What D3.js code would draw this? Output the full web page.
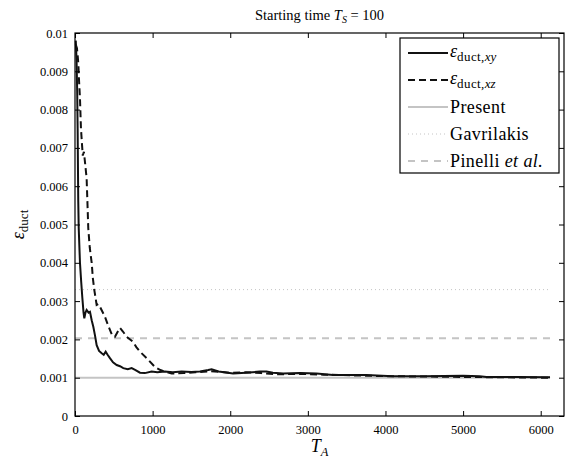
<!DOCTYPE html>
<html>
<head>
<meta charset="utf-8">
<script src="https://d3js.org/d3.v7.min.js"></script>
<style>
  body { margin: 0; background: #fff; }
</style>
</head>
<body>
<div id="chart"></div>
<script>

    // eps_duct,xy (solid) : averaging time T_A vs error
    const tA_xy = [10, 20, 28, 34, 38, 42, 48, 64, 80, 94, 110, 120, 135, 150, 175, 193, 215, 236, 258, 279,
                   310, 344, 370, 395, 420, 450, 490, 537, 580, 622, 680, 730, 780, 837, 900, 987, 1060, 1158,
                   1260, 1373, 1500, 1609, 1716, 1760, 1850, 2037, 2200, 2381, 2467, 2550, 2681, 2900, 3111,
                   3324, 3754, 4093, 4500, 5000, 5212, 5300, 5700, 6120];
    const eps_xy = [0.0098, 0.0093, 0.0085, 0.0075, 0.0065, 0.0056, 0.0049, 0.0040, 0.0035, 0.0031, 0.0027,
                    0.00255, 0.0027, 0.00277, 0.0027, 0.00272, 0.0025, 0.00233, 0.0021, 0.00185, 0.0017,
                    0.00164, 0.0016, 0.00168, 0.0016, 0.00151, 0.0014, 0.00133, 0.0013, 0.00125, 0.00122,
                    0.00125, 0.0012, 0.00113, 0.00112, 0.00116, 0.00114, 0.00116, 0.00114, 0.00116, 0.00115,
                    0.00116, 0.0012, 0.00122, 0.00116, 0.00111, 0.00113, 0.00116, 0.00116, 0.00113, 0.00111,
                    0.00112, 0.00111, 0.00107, 0.00107, 0.00104, 0.00104, 0.00105, 0.00104, 0.00102, 0.00102,
                    0.00101];

    // eps_duct,xz (dashed)
    const tA_xz = [10, 25, 35, 43, 51, 64, 77, 90, 100, 115, 130, 150, 163, 171, 190, 215, 230, 248, 279, 300,
                   322, 386, 420, 450, 480, 515, 550, 579, 620, 665, 746, 790, 837, 923, 1030, 1100, 1158, 1245,
                   1400, 1550, 1750, 2000, 2200, 2400, 2600, 2900, 3200, 3600, 4000, 4500, 5000, 5500, 6120];
    const eps_xz = [0.0097, 0.0096, 0.0094, 0.0092, 0.0088, 0.0083, 0.0075, 0.0071, 0.0068, 0.0069, 0.0066,
                    0.0062, 0.0054, 0.0049, 0.0044, 0.0040, 0.0036, 0.0033, 0.0029, 0.00292, 0.00285, 0.00259,
                    0.0024, 0.00225, 0.0021, 0.00207, 0.0022, 0.0023, 0.0022, 0.00207, 0.00194, 0.0018, 0.00168,
                    0.00151, 0.00128, 0.0012, 0.00116, 0.00111, 0.00112, 0.00114, 0.00117, 0.00113, 0.00114,
                    0.00112, 0.00109, 0.0011, 0.00108, 0.00106, 0.00104, 0.00103, 0.00102, 0.00101, 0.001];

    // reference values (horizontal lines)
    const refNames = ["Present", "Gavrilakis", "Pinelli"];
    const refValues = [0.001, 0.0033, 0.00203];
    const refSpan = [0, 6120];

    const xTicks = [0, 1000, 2000, 3000, 4000, 5000, 6000];
    const yTicks = [0, 0.001, 0.002, 0.003, 0.004, 0.005, 0.006, 0.007, 0.008, 0.009, 0.01];

    const w = 568, h = 459;
    const margin = {left: 75, right: 4, top: 33, bottom: 43};
    const serif = "'Liberation Serif', 'Times New Roman', Times, serif";

    const xScale = d3.scaleLinear().domain([0, 6300]).range([margin.left, w - margin.right]);
    const yScale = d3.scaleLinear().domain([0, 0.01]).range([h - margin.bottom, margin.top]);

    const svg = d3.select("#chart").append("svg")
                  .attr("width", w)
                  .attr("height", h)
                  .attr("font-family", serif);

    const line = d3.line().x(d => xScale(d[0])).y(d => yScale(d[1]));

    // reference lines
    const refStyle = [
      {stroke: "#c4c4c4", dash: null, width: 2},
      {stroke: "#c4c4c4", dash: "1,3", width: 1},
      {stroke: "#c4c4c4", dash: "7,6", width: 2}
    ];
    refValues.forEach((v, i) => {
      svg.append("path")
         .attr("d", line(refSpan.map(t => [t, v])))
         .attr("fill", "none")
         .attr("stroke", refStyle[i].stroke)
         .attr("stroke-width", refStyle[i].width)
         .attr("stroke-dasharray", refStyle[i].dash);
    });

    svg.append("path")
       .attr("d", line(d3.zip(tA_xz, eps_xz)))
       .attr("fill", "none")
       .attr("stroke", "#111")
       .attr("stroke-width", 2)
       .attr("stroke-dasharray", "7,4");

    svg.append("path")
       .attr("d", line(d3.zip(tA_xy, eps_xy)))
       .attr("fill", "none")
       .attr("stroke", "#111")
       .attr("stroke-width", 2);

    // axes, ticks inward on all sides
    const fmt = d => d === 0 ? "0" : String(+d.toFixed(3));
    const tickFont = g => g.attr("font-family", serif).attr("font-size", 12.5)
                           .selectAll("text").attr("fill", "#000");
    const clean = g => { g.select(".domain").remove(); g.selectAll("line").attr("stroke", "#000"); };

    svg.append("g")
       .attr("transform", "translate(0," + yScale(0) + ")")
       .call(d3.axisBottom(xScale).tickValues(xTicks).tickFormat(d3.format("d"))
               .tickSizeInner(-5).tickSizeOuter(0).tickPadding(9))
       .call(clean).call(tickFont);
    svg.append("g")
       .attr("transform", "translate(0," + yScale(0.01) + ")")
       .call(d3.axisTop(xScale).tickValues(xTicks).tickSizeInner(-5).tickSizeOuter(0).tickFormat(""))
       .call(clean);
    svg.append("g")
       .attr("transform", "translate(" + xScale(0) + ",0)")
       .call(d3.axisLeft(yScale).tickValues(yTicks).tickFormat(fmt).tickSizeInner(-5).tickSizeOuter(0).tickPadding(7))
       .call(clean).call(tickFont);
    svg.append("g")
       .attr("transform", "translate(" + xScale(6300) + ",0)")
       .call(d3.axisRight(yScale).tickValues(yTicks).tickSizeInner(-5).tickSizeOuter(0).tickFormat(""))
       .call(clean);

    svg.append("rect")
       .attr("x", xScale(0)).attr("y", yScale(0.01))
       .attr("width", xScale(6300) - xScale(0))
       .attr("height", yScale(0) - yScale(0.01))
       .attr("fill", "none").attr("stroke", "#000").attr("stroke-width", 1.2);

    // title
    const title = svg.append("text")
       .attr("x", (xScale(0) + xScale(6300)) / 2).attr("y", 20)
       .attr("text-anchor", "middle").attr("font-size", 14.5);
    title.append("tspan").text("Starting time ");
    title.append("tspan").attr("font-style", "italic").text("T");
    title.append("tspan").attr("dy", 3).attr("font-size", 10).attr("font-style", "italic").text("S");
    title.append("tspan").attr("dy", -3).text(" = 100");

    // x label
    const xl = svg.append("text")
       .attr("x", (xScale(0) + xScale(6300)) / 2).attr("y", 452)
       .attr("text-anchor", "middle").attr("font-size", 18);
    xl.append("tspan").attr("font-style", "italic").text("T");
    xl.append("tspan").attr("dy", 4).attr("font-size", 12.5).attr("font-style", "italic").text("A");

    // y label
    const yl = svg.append("text")
       .attr("transform", "translate(24," + (yScale(0.005)) + ") rotate(-90)")
       .attr("text-anchor", "middle").attr("font-size", 18);
    yl.append("tspan").attr("font-style", "italic").text("ε");
    yl.append("tspan").attr("dy", 4).attr("font-size", 13).text("duct");

    // legend
    const lg = svg.append("g");
    lg.append("rect")
      .attr("x", 400).attr("y", 38).attr("width", 159).attr("height", 135)
      .attr("fill", "#fff").attr("stroke", "#000").attr("stroke-width", 1.2);

    const legendItems = [
      {stroke: "#111", dash: null, width: 2},
      {stroke: "#111", dash: "7,4", width: 2},
      refStyle[0], refStyle[1], refStyle[2]
    ];
    const legendY = [53, 80, 107, 134, 161];
    legendItems.forEach((s, i) => {
      lg.append("line")
        .attr("x1", 408).attr("x2", 448)
        .attr("y1", legendY[i]).attr("y2", legendY[i])
        .attr("stroke", s.stroke).attr("stroke-width", s.width)
        .attr("stroke-dasharray", s.dash);
    });

    function epsLabel(y, sub) {
      const t = lg.append("text").attr("x", 450).attr("y", y + 4).attr("font-size", 18);
      t.append("tspan").attr("font-style", "italic").text("ε");
      t.append("tspan").attr("dy", 4).attr("font-size", 13).attr("letter-spacing", 0.4).text("duct,");
      t.append("tspan").attr("font-size", 13).attr("font-style", "italic").text(sub);
    }
    epsLabel(legendY[0], "xy");
    epsLabel(legendY[1], "xz");
    const lt = g => g.attr("x", 450).attr("font-size", 18).attr("letter-spacing", 0.4);
    lg.append("text").call(lt).attr("y", legendY[2] + 6).text(refNames[0]);
    lg.append("text").call(lt).attr("y", legendY[3] + 6).text(refNames[1]);
    const pin = lg.append("text").call(lt).attr("y", legendY[4] + 6);
    pin.append("tspan").text(refNames[2] + " ");
    pin.append("tspan").attr("font-style", "italic").text("et al.");

</script>
</body>
</html>
